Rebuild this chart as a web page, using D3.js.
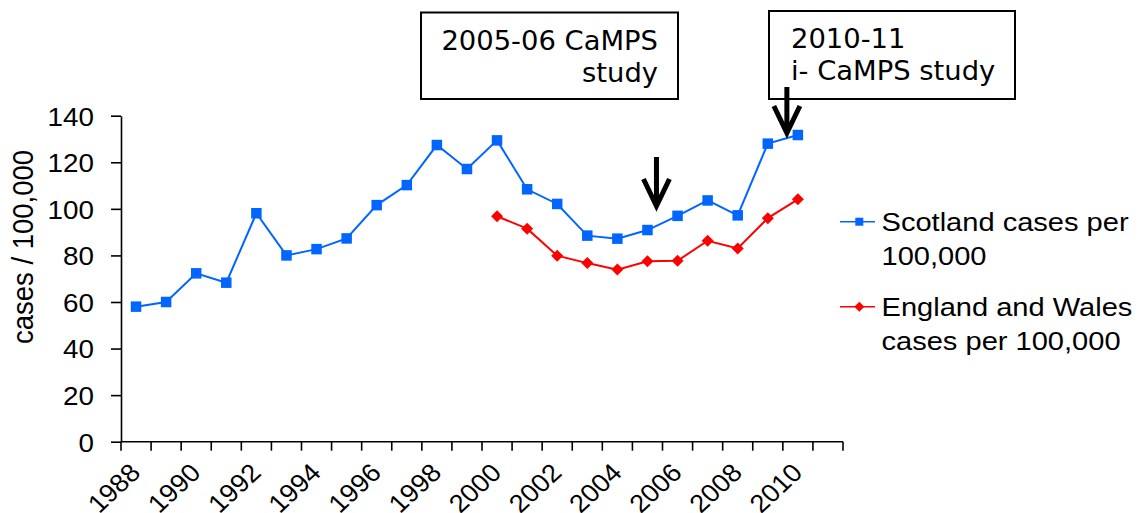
<!DOCTYPE html>
<html>
<head>
<meta charset="utf-8">
<script src="https://cdn.jsdelivr.net/npm/d3@7"></script>
<style>
  html, body { margin: 0; padding: 0; background: #fff; }
  svg { display: block; }
  text { font-family: "Liberation Sans", Arial, sans-serif; fill: #000; }
  .note { font-family: "DejaVu Sans", Verdana, sans-serif; }
</style>
</head>
<body>
<svg id="chart" width="1141" height="513"></svg>
<script>
// Years on the category axis (the last slot is left empty)
const years = [1988, 1989, 1990, 1991, 1992, 1993, 1994, 1995, 1996, 1997, 1998, 1999,
               2000, 2001, 2002, 2003, 2004, 2005, 2006, 2007, 2008, 2009, 2010, 2011];

// Cases per 100,000
const scotland = [58, 60, 72.3, 68.3, 98.1, 80, 82.7, 87.3, 101.6, 110.2, 127.4, 117.1,
                  129.4, 108.4, 102.1, 88.5, 87.2, 90.9, 97.0, 103.6, 97.2, 128.0, 131.7, null];
const englandWales = [null, null, null, null, null, null, null, null, null, null, null, null,
                      96.8, 91.5, 79.9, 76.7, 73.9, 77.5, 77.7, 86.3, 83.0, 96.0, 104.1, null];

const yTicks = [0, 20, 40, 60, 80, 100, 120, 140];
const xTickLabels = [1988, 1990, 1992, 1994, 1996, 1998, 2000, 2002, 2004, 2006, 2008, 2010];

const seriesNames = ["Scotland cases per 100,000", "England and Wales cases per 100,000"];
const legendLines = [["Scotland cases per", "100,000"], ["England and Wales", "cases per 100,000"]];

const noteLines = [["2005-06 CaMPS", "study"], ["2010-11", "i-  CaMPS study"]];
const noteYears = [2005, 2010];

const blue = "#0066ff", red = "#ff0000";
const svg = d3.select("#chart");

const plot = { left: 121, right: 843, top: 115.7, bottom: 441.7 };

const x = d3.scaleBand().domain(years).range([plot.left, plot.right]).padding(0);
const y = d3.scaleLinear().domain([0, 140]).range([plot.bottom, plot.top]);
const cx = yr => x(yr) + x.bandwidth() / 2;

// Y axis
const yAxis = svg.append("g")
  .attr("transform", `translate(${plot.left},0)`)
  .call(d3.axisLeft(y).tickValues(yTicks).tickSize(10).tickSizeOuter(0).tickFormat(d3.format("d")));
yAxis.select(".domain").attr("stroke", "#000").attr("stroke-width", 1.6);
yAxis.selectAll(".tick line").attr("stroke", "#000").attr("stroke-width", 1.6);
yAxis.selectAll(".tick text")
  .attr("x", null).attr("dy", "0.36em")
  .attr("transform", "translate(-27,0) scale(1.07,1)")
  .style("font-size", "26px").style("font-family", "Liberation Sans, Arial, sans-serif")
  .attr("fill", "#000");

// X axis: tick marks on the category boundaries
const boundaries = years.map(yr => x(yr)).concat([plot.right]);
const xg = svg.append("g").attr("transform", `translate(0,${plot.bottom})`);
xg.append("line").attr("x1", plot.left).attr("x2", plot.right)
  .attr("stroke", "#000").attr("stroke-width", 1.6);
xg.selectAll("line.tk").data(boundaries).join("line").attr("class", "tk")
  .attr("x1", d => d).attr("x2", d => d).attr("y1", 0).attr("y2", 9)
  .attr("stroke", "#000").attr("stroke-width", 1.6);
xg.selectAll("text").data(xTickLabels).join("text")
  .attr("text-anchor", "end")
  .attr("transform", d => `translate(${cx(d) + 6},32.5) scale(1.07,1) rotate(-45)`)
  .style("font-size", "25.5px")
  .text(d => d);

// Y axis title
svg.append("text")
  .attr("text-anchor", "middle")
  .attr("transform", "translate(33,247) scale(1.1,1) rotate(-90)")
  .style("font-size", "27.5px")
  .text("cases / 100,000");

// Series lines and markers
const line = d3.line().defined(d => d.v != null).x(d => cx(d.yr)).y(d => y(d.v));
const toPts = arr => years.map((yr, i) => ({ yr, v: arr[i] }));
const sPts = toPts(scotland), ePts = toPts(englandWales);

svg.append("path").datum(sPts).attr("d", line)
  .attr("fill", "none").attr("stroke", blue).attr("stroke-width", 2);
svg.append("path").datum(ePts).attr("d", line)
  .attr("fill", "none").attr("stroke", red).attr("stroke-width", 2);

const sq = 10.5;
svg.selectAll("rect.sc").data(sPts.filter(d => d.v != null)).join("rect").attr("class", "sc")
  .attr("x", d => cx(d.yr) - sq / 2).attr("y", d => y(d.v) - sq / 2)
  .attr("width", sq).attr("height", sq).attr("fill", blue);

const diamond = r => `M0,${-r}L${r},0L0,${r}L${-r},0Z`;
svg.selectAll("path.ew").data(ePts.filter(d => d.v != null)).join("path").attr("class", "ew")
  .attr("transform", d => `translate(${cx(d.yr)},${y(d.v)})`)
  .attr("d", diamond(6)).attr("fill", red);

// Legend
const legend = svg.append("g");
const legY = [221.7, 306.7];
const legColors = [blue, red];
legY.forEach((ly, i) => {
  legend.append("line").attr("x1", 840).attr("x2", 875).attr("y1", ly).attr("y2", ly)
    .attr("stroke", legColors[i]).attr("stroke-width", 1.6);
  if (i === 0) {
    legend.append("rect").attr("x", 859.3 - 4).attr("y", ly - 4).attr("width", 8).attr("height", 8).attr("fill", blue);
  } else {
    legend.append("path").attr("transform", `translate(859.3,${ly})`).attr("d", diamond(5)).attr("fill", red);
  }
  legendLines[i].forEach((t, j) => {
    legend.append("text")
      .attr("transform", `translate(881.5,${ly + 9 + j * 34.5}) scale(1.14,1)`)
      .style("font-size", "25.5px")
      .text(t);
  });
});

// Study annotation boxes
const boxes = [
  { x: 421, y: 12.5, w: 257, h: 86.5, anchor: "end", tx: 658, base: [49.5, 82] },
  { x: 769, y: 11, w: 246, h: 88, anchor: "start", tx: 791, base: [47.7, 80] }
];
boxes.forEach((b, i) => {
  svg.append("rect").attr("x", b.x).attr("y", b.y).attr("width", b.w).attr("height", b.h)
    .attr("fill", "#fff").attr("stroke", "#000").attr("stroke-width", 2);
  noteLines[i].forEach((t, j) => {
    svg.append("text").attr("class", "note")
      .attr("x", b.tx).attr("y", b.base[j])
      .attr("text-anchor", b.anchor)
      .style("font-size", "27.4px").style("font-family", "DejaVu Sans, Verdana, sans-serif")
      .text(t);
  });
});

// Arrows pointing at the study years
const arrows = [
  { x: cx(noteYears[0]) + 9, top: 157, tip: 206 },
  { x: cx(noteYears[1]) - 11, top: 87, tip: 133 }
];
arrows.forEach(a => {
  svg.append("path")
    .attr("d", `M${a.x},${a.top}L${a.x},${a.tip - 2}M${a.x - 13},${a.tip - 27}L${a.x},${a.tip}L${a.x + 13},${a.tip - 27}`)
    .attr("fill", "none").attr("stroke", "#000").attr("stroke-width", 5)
    .attr("stroke-linejoin", "miter");
});
</script>
</body>
</html>
